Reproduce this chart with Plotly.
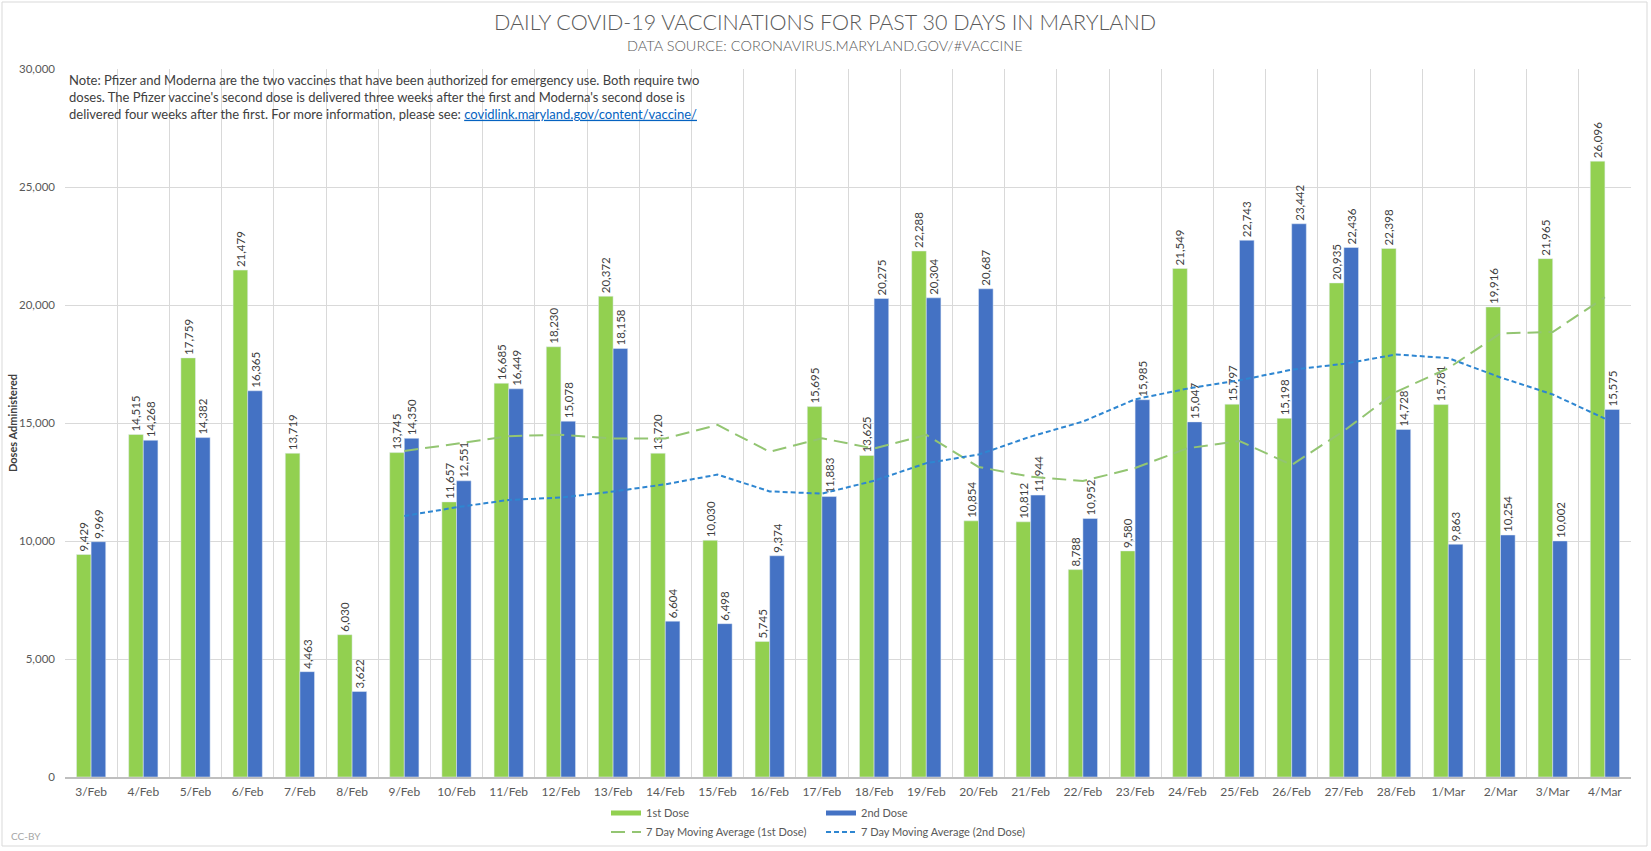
import plotly.graph_objects as go

days = ["3/Feb", "4/Feb", "5/Feb", "6/Feb", "7/Feb", "8/Feb", "9/Feb", "10/Feb",
        "11/Feb", "12/Feb", "13/Feb", "14/Feb", "15/Feb", "16/Feb", "17/Feb",
        "18/Feb", "19/Feb", "20/Feb", "21/Feb", "22/Feb", "23/Feb", "24/Feb",
        "25/Feb", "26/Feb", "27/Feb", "28/Feb", "1/Mar", "2/Mar", "3/Mar", "4/Mar"]

first_dose = [9429, 14515, 17759, 21479, 13719, 6030, 13745, 11657, 16685, 18230,
              20372, 13720, 10030, 5745, 15695, 13625, 22288, 10854, 10812, 8788,
              9580, 21549, 15797, 15198, 20935, 22398, 15781, 19916, 21965, 26096]

second_dose = [9969, 14268, 14382, 16365, 4463, 3622, 14350, 12551, 16449, 15078,
               18158, 6604, 6498, 9374, 11883, 20275, 20304, 20687, 11944, 10952,
               15985, 15047, 22743, 23442, 22436, 14728, 9863, 10254, 10002, 15575]

# moving averages start on 9/Feb
ma_days = days[6:]
ma_first = [13811, 14129, 14439, 14506, 14348, 14348, 14920, 13777, 14354, 13917,
            14496, 13137, 12721, 12544, 13092, 13928, 14238, 13225, 14666, 16321,
            17320, 18796, 18856, 20327]
ma_second = [11060, 11429, 11740, 11840, 12096, 12402, 12813, 12102, 12006, 12553,
             13299, 13661, 14424, 15060, 16004, 16456, 16809, 17257, 17507, 17905,
             17749, 16930, 16210, 15186]

W, H = 1651, 851
L, R, T, B = 65, 20, 69, 74
PW, PH = W - L - R, H - T - B

def px(x):
    return (x - L) / PW

def py(y):
    return (H - B - y) / PH

def cx(x):
    return x / W

def cy(y):
    return (H - y) / H

FONT = "Lato"
GREY = "#595959"
DARK = "#404040"
GREEN, BLUE = "#92D050", "#4472C4"

fig = go.Figure()

fig.add_trace(go.Bar(
    x=days, y=first_dose, name="1st Dose", legendgroup="d1", showlegend=False,
    marker=dict(color=GREEN),
    text=[f"{v:,}" for v in first_dose], textposition="outside",
    textangle=-90, constraintext="none", cliponaxis=False,
    textfont=dict(family=FONT, size=11.5, color=DARK),
))
fig.add_trace(go.Bar(
    x=days, y=second_dose, name="2nd Dose", legendgroup="d2", showlegend=False,
    marker=dict(color=BLUE),
    text=[f"{v:,}" for v in second_dose], textposition="outside",
    textangle=-90, constraintext="none", cliponaxis=False,
    textfont=dict(family=FONT, size=11.5, color=DARK),
))
fig.add_trace(go.Scatter(
    x=ma_days, y=ma_first, name="7 Day Moving Average (1st Dose)",
    mode="lines", line=dict(color="#93C572", width=2, dash="14px,7px"),
    legend="legend3",
))
fig.add_trace(go.Scatter(
    x=ma_days, y=ma_second, name="7 Day Moving Average (2nd Dose)",
    mode="lines", line=dict(color="#2E86D1", width=2, dash="5px,3px"),
    legend="legend4",
))
# legend keys for the bars (flat bar swatches as in the original)
fig.add_trace(go.Scatter(x=[None], y=[None], name="1st Dose", legendgroup="d1",
                         mode="lines", line=dict(color=GREEN, width=5), legend="legend"))
fig.add_trace(go.Scatter(x=[None], y=[None], name="2nd Dose", legendgroup="d2",
                         mode="lines", line=dict(color=BLUE, width=5), legend="legend2"))

note = ("Note: Pfizer and Moderna are the two vaccines that have been authorized for emergency use. Both require two<br>"
        "doses. The Pfizer vaccine's second dose is delivered three weeks after the first and Moderna's second dose is<br>"
        "delivered four weeks after the first. For more information, please see: "
        "<a href=\"https://covidlink.maryland.gov/content/vaccine/\" style=\"color:#0563C1\">"
        "<u>covidlink.maryland.gov/content/vaccine/</u></a>")

annotations = [
    dict(text="DAILY COVID-19 VACCINATIONS FOR PAST 30 DAYS IN MARYLAND",
         x=px(825), y=py(22), xref="paper", yref="paper", showarrow=False,
         xanchor="center", yanchor="middle",
         font=dict(family=FONT, size=21.5, color=GREY, weight=300)),
    dict(text="DATA SOURCE: CORONAVIRUS.MARYLAND.GOV/#VACCINE",
         x=px(825), y=py(46), xref="paper", yref="paper", showarrow=False,
         xanchor="center", yanchor="middle",
         font=dict(family=FONT, size=14.5, color=GREY, weight=300)),
    dict(text=note, x=px(67), y=py(70), xref="paper", yref="paper", showarrow=False,
         xanchor="left", yanchor="top", align="left",
         font=dict(family=FONT, size=13, color=DARK)),
    dict(text="Doses Administered", x=px(12), y=0.5, xref="paper", yref="paper",
         showarrow=False, textangle=-90, xanchor="center", yanchor="middle",
         font=dict(family=FONT, size=11, color=DARK, weight="bold")),
    dict(text="CC-BY", x=px(9), y=py(836), xref="paper", yref="paper",
         showarrow=False, xanchor="left", yanchor="middle",
         font=dict(family=FONT, size=10, color="#A6A6A6")),
]

def legend_at(x, y):
    return dict(x=cx(x), y=cy(y), xref="container", yref="container",
                xanchor="left", yanchor="middle", orientation="h",
                font=dict(family=FONT, size=11, color=GREY), bgcolor="rgba(0,0,0,0)")

fig.update_layout(
    width=W, height=H,
    margin=dict(l=L, r=R, t=T, b=B, autoexpand=False),
    paper_bgcolor="white", plot_bgcolor="white",
    barmode="group", bargap=0.44, bargroupgap=0,
    annotations=annotations,
    shapes=[dict(type="rect", xref="paper", yref="paper",
                 x0=px(2), x1=px(1647), y0=py(846), y1=py(2),
                 line=dict(color="#D9D9D9", width=1), layer="below")],
    legend=legend_at(606, 813),
    legend2=legend_at(821, 813),
    legend3=legend_at(606, 832),
    legend4=legend_at(821, 832),
    xaxis=dict(type="category", tickson="boundaries", showgrid=True, gridcolor="#D9D9D9",
               ticks="", showline=True, linecolor="#BFBFBF", linewidth=2,
               tickfont=dict(family=FONT, size=12, color=GREY), ticklabelstandoff=3),
    yaxis=dict(range=[0, 30000], dtick=5000, tickformat=",", showgrid=True,
               gridcolor="#D9D9D9", zeroline=False, showline=False, ticks="",
               tickfont=dict(family=FONT, size=11.5, color=GREY), ticklabelstandoff=9),
)

fig.write_html("out.html", config={"displayModeBar": False},
               post_script="document.body.style.margin='0';")
